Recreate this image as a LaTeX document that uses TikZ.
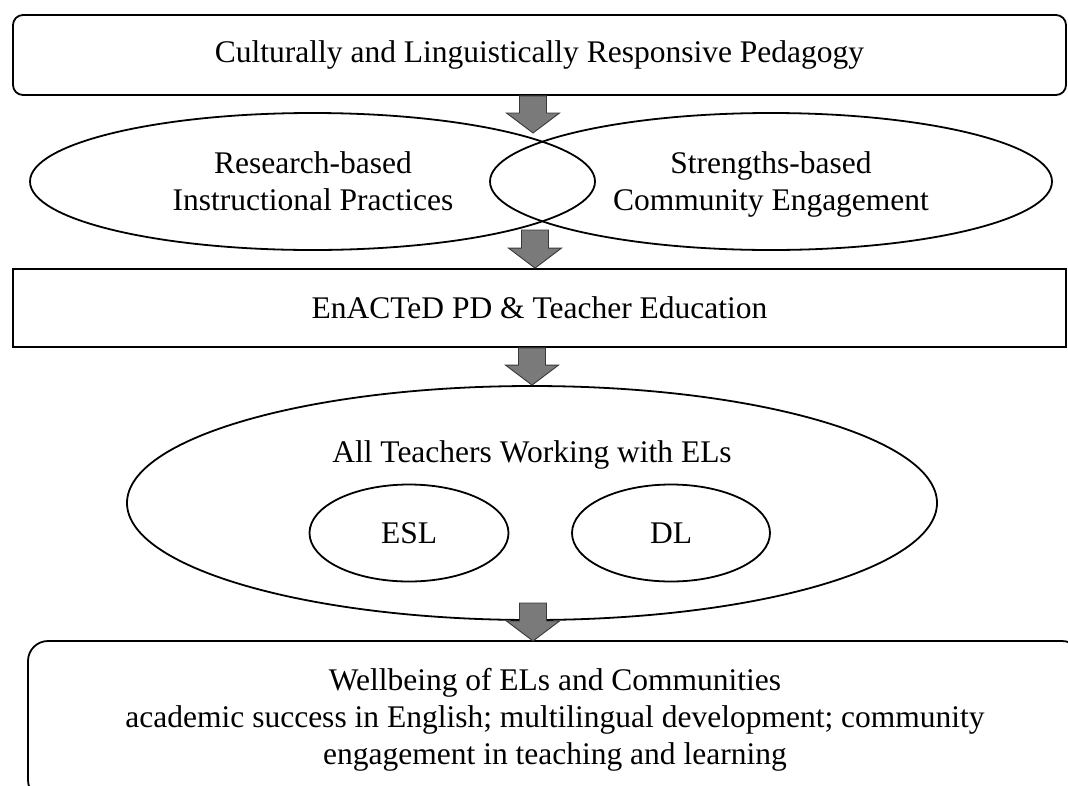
\documentclass[tikz,border=0pt]{standalone}
\usepackage{fontspec}
\setmainfont{Liberation Serif}
\usetikzlibrary{shapes.geometric,calc}

\tikzset{
  frame/.style={draw=black, line width=1.8pt, inner sep=0pt, align=center},
  roundbox/.style={frame, rectangle, rounded corners=10pt},
  plainbox/.style={frame, rectangle},
  oval/.style={frame, ellipse},
  label text/.style={inner sep=0pt, align=center},
  barrow/.style={fill=black!52, draw=black!78, line width=0.9pt, line join=miter},
}

% downward block arrow from #1 (top of shaft) to #2 (tip)
\newcommand\blockarrow[2]{%
  \draw[barrow] let \p1=#1, \p2=#2 in
    (\x1-13.5pt,\y1) -- (\x1+13.5pt,\y1) -- (\x1+13.5pt,\y2+20pt)
    -- (\x1+26.5pt,\y2+20pt) -- (\x1,\y2) -- (\x1-26.5pt,\y2+20pt)
    -- (\x1-13.5pt,\y2+20pt) -- cycle;}

\begin{document}
\begin{tikzpicture}[x=1pt,y=-1pt,
  every node/.append style={font=\fontsize{31.5}{37}\selectfont}]
\fill[white] (0,0) rectangle (1068,785);
\useasboundingbox (0,0) rectangle (1068,785);
\clip (0,0) rectangle (1068,785);

% pedagogy banner
\node[roundbox, minimum width=1053pt, minimum height=80pt] (cilp) at (539.5,55)
  {Culturally and Linguistically Responsive Pedagogy};

% two overlapping strands
\node[oval, minimum width=565pt, minimum height=137pt] (rbip) at (312.5,181.5) {};
\node[oval, minimum width=562pt, minimum height=137pt] (sbce) at (771,181.5) {};
\node[label text, anchor=base] (rbiplbl) at (313,210) {Research-based\\Instructional Practices};
\node[label text, anchor=base] (sbcelbl) at (771,210) {Strengths-based\\Community Engagement};

% professional development
\node[plainbox, minimum width=1053pt, minimum height=78pt] (pd) at (539.5,308)
  {EnACTeD PD \& Teacher Education};

% teachers
\node[oval, minimum width=810pt, minimum height=234pt] (teach) at (532,503) {};
\node[label text] (teachlbl) at (532,455) {All Teachers Working with ELs};
\node[oval, minimum width=199pt, minimum height=97pt] (esl) at (409,533) {ESL};
\node[oval, minimum width=198pt, minimum height=97pt] (dl) at (671,533) {DL};

% outcomes
\draw[line width=1.8pt, rounded corners=20pt] (28,641) rectangle (1082,800);
\coordinate (wellc) at (555,641);
\node[label text, anchor=north] (well) at (555,668)
  {Wellbeing of ELs and Communities\\
   academic success in English; multilingual development; community\\
   engagement in teaching and learning};

% arrow columns
\coordinate (c1) at (533,0);
\coordinate (c2) at (535,0);
\coordinate (t1) at (533,133);
\coordinate (s2) at (535,230);
\coordinate (s4) at (533,603);

\blockarrow{(cilp.south -| c1)}{(t1)}
\blockarrow{(s2)}{(pd.north -| c2)}
\blockarrow{(pd.south -| teach.north)}{(teach.north)}
\blockarrow{(s4)}{(wellc -| s4)}
\end{tikzpicture}
\end{document}
